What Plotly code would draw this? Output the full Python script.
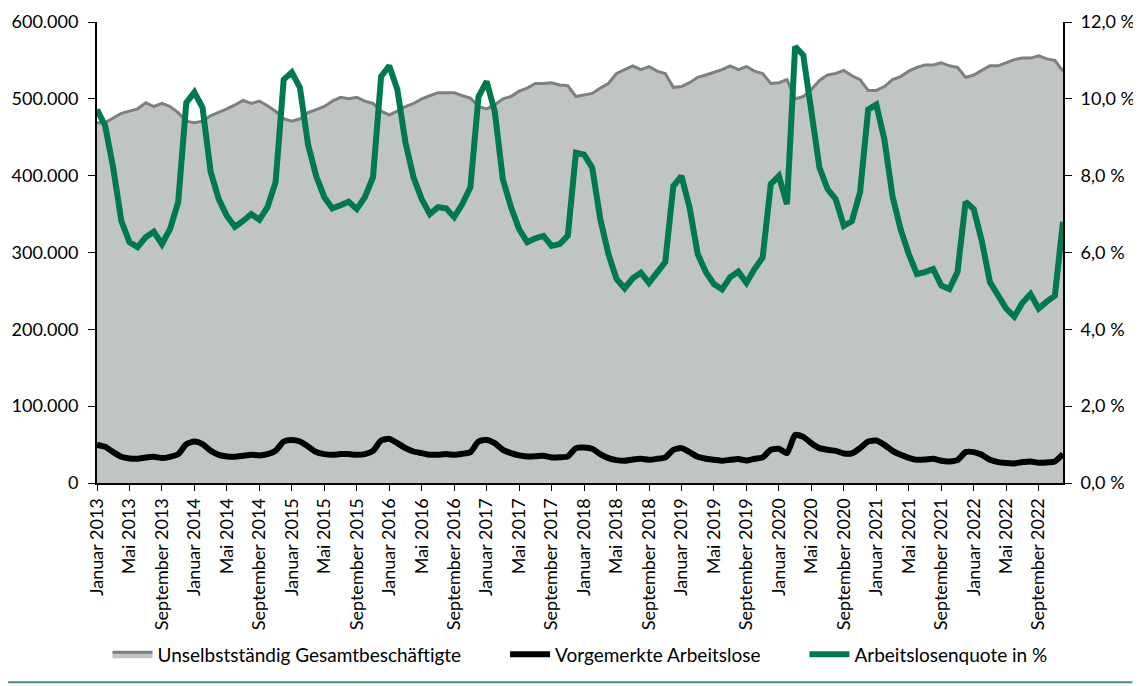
import plotly.graph_objects as go

monate = ["Januar", "Februar", "März", "April", "Mai", "Juni", "Juli",
          "August", "September", "Oktober", "November", "Dezember"]
jahre = list(range(2013, 2023))
kategorien = [f"{m} {j}" for j in jahre for m in monate]
tick_labels = [k for k in kategorien if k.split()[0] in ("Januar", "Mai", "September")]

# Unselbstständig Gesamtbeschäftigte
beschaeftigte = [
    469000, 469000, 475000, 481000, 484000, 487000, 495000, 490000, 494000, 490000, 482000, 471000,
    469000, 471000, 478000, 482000, 487000, 492000, 498000, 494000, 497000, 491000, 484000, 474000,
    471000, 474000, 482000, 486000, 490000, 497000, 502000, 500000, 502000, 497000, 494000, 484000,
    479000, 484000, 490000, 494000, 500000, 504000, 508000, 508000, 508000, 504000, 501000, 490000,
    487000, 492000, 500000, 503000, 510000, 514000, 520000, 520000, 521000, 518000, 517000, 503000,
    505000, 507000, 514000, 520000, 533000, 538000, 543000, 538000, 542000, 536000, 533000, 515000,
    516000, 521000, 528000, 531000, 534000, 538000, 543000, 538000, 542000, 536000, 533000, 520000,
    521000, 525000, 500000, 503000, 512000, 524000, 531000, 533000, 537000, 530000, 525000, 511000,
    511000, 516000, 525000, 529000, 536000, 541000, 544000, 544000, 547000, 543000, 541000, 528000,
    531000, 537000, 543000, 543000, 547000, 551000, 553000, 553000, 556000, 552000, 550000, 536000,
]

# Vorgemerkte Arbeitslose
arbeitslose = [
    49600, 47100, 40200, 34100, 32000, 31500, 33300, 34100, 32400, 34100, 37600, 50500,
    54000, 50500, 41900, 36700, 34600, 34100, 35400, 36700, 35900, 37600, 41900, 54000,
    56100, 54000, 47500, 40200, 37600, 36700, 37600, 37600, 36700, 37600, 41900, 55300,
    57400, 51800, 45400, 41000, 38900, 36700, 36900, 37600, 36700, 38000, 40200, 54000,
    56100, 51800, 43200, 38900, 35900, 34600, 34800, 35400, 33300, 33500, 34600, 45400,
    46200, 44500, 37600, 32400, 29800, 28900, 30700, 31500, 30200, 31500, 33300, 43200,
    45400, 40200, 34100, 31500, 30200, 28900, 30200, 31100, 29300, 31500, 33300, 43200,
    44500, 38900, 62600, 60000, 51800, 45400, 43200, 41900, 38500, 38500, 45400, 54000,
    55300, 49600, 41900, 36700, 32800, 30200, 30500, 31500, 28900, 28100, 29800, 40200,
    40200, 36700, 30200, 27200, 25900, 25500, 27200, 28100, 26300, 26800, 28100, 37600,
]

# Arbeitslosenquote in %
quote = [
    9.72, 9.30, 8.20, 6.82, 6.27, 6.14, 6.40, 6.54, 6.22, 6.61, 7.31, 9.90,
    10.17, 9.77, 8.10, 7.39, 6.95, 6.67, 6.82, 7.00, 6.85, 7.18, 7.83, 10.50,
    10.69, 10.29, 8.81, 7.99, 7.44, 7.15, 7.23, 7.32, 7.13, 7.44, 7.96, 10.58,
    10.86, 10.24, 8.86, 7.95, 7.39, 7.00, 7.18, 7.15, 6.92, 7.26, 7.70, 10.06,
    10.45, 9.67, 7.90, 7.18, 6.61, 6.27, 6.37, 6.43, 6.17, 6.22, 6.44, 8.60,
    8.55, 8.21, 6.87, 5.96, 5.31, 5.07, 5.33, 5.47, 5.21, 5.49, 5.75, 7.73,
    7.99, 7.17, 5.96, 5.49, 5.18, 5.04, 5.36, 5.50, 5.21, 5.57, 5.87, 7.78,
    7.99, 7.26, 11.36, 11.14, 9.72, 8.21, 7.65, 7.39, 6.69, 6.82, 7.57, 9.72,
    9.85, 8.94, 7.46, 6.60, 5.96, 5.44, 5.49, 5.57, 5.14, 5.05, 5.49, 7.32,
    7.13, 6.30, 5.23, 4.85, 4.54, 4.33, 4.69, 4.92, 4.54, 4.72, 4.88, 6.80,
]

schrift = "Lato"
abstand = "\u00a0" * 8  # Luecke zwischen den Legendeneintraegen

fig = go.Figure()
fig.add_trace(go.Scatter(
    x=kategorien, y=beschaeftigte, name="Unselbstständig Gesamtbeschäftigte" + abstand,
    mode="lines", fill="tozeroy", fillcolor="#c1c4c5",
    line=dict(color="#7f7f7f", width=3),
))
fig.add_trace(go.Scatter(
    x=kategorien, y=arbeitslose, name="Vorgemerkte Arbeitslose" + abstand,
    mode="lines", line=dict(color="#000000", width=6, shape="spline", smoothing=0.6),
))
fig.add_trace(go.Scatter(
    x=kategorien, y=quote, name="Arbeitslosenquote in %", yaxis="y2",
    mode="lines", line=dict(color="#007a4d", width=6),
))

# die Seite hat 8px Rand, daher Breite/Hoehe und Raender angepasst
fig.update_layout(
    width=1133, height=678,
    margin=dict(l=89, r=78, t=14, b=201),
    paper_bgcolor="white", plot_bgcolor="white",
    separators=",.",
    font=dict(family=schrift, size=18, color="#000000"),
    showlegend=True,
    legend=dict(orientation="h", x=0.5, xanchor="center", y=-0.372, yanchor="middle",
                font=dict(size=19), itemwidth=40, traceorder="normal"),
    xaxis=dict(
        type="category", range=[0, len(kategorien) - 1], automargin=False,
        tickvals=tick_labels, ticktext=tick_labels, tickangle=-90,
        tickfont=dict(size=18), ticks="outside", ticklen=6, tickcolor="#000000",
        showline=True, linecolor="#000000", linewidth=2, showgrid=False, zeroline=False,
    ),
    yaxis=dict(
        range=[0, 600000], dtick=100000, tickformat=",d", automargin=False,
        ticks="outside", ticklen=7, tickcolor="#000000", ticklabelstandoff=6,
        showline=True, linecolor="#000000", linewidth=2, showgrid=False, zeroline=False,
    ),
    yaxis2=dict(
        overlaying="y", side="right", range=[0, 12], dtick=2, automargin=False,
        tickformat=".1f", ticksuffix=" %", ticklabelstandoff=5,
        ticks="outside", ticklen=7, tickcolor="#000000",
        showline=True, linecolor="#000000", linewidth=2, showgrid=False, zeroline=False,
    ),
)

fig.add_shape(type="line", xref="paper", yref="paper",
              x0=-0.092, x1=1.072, y0=-0.432, y1=-0.432,
              line=dict(color="#4f8a74", width=2))

fig.write_html("out.html")
